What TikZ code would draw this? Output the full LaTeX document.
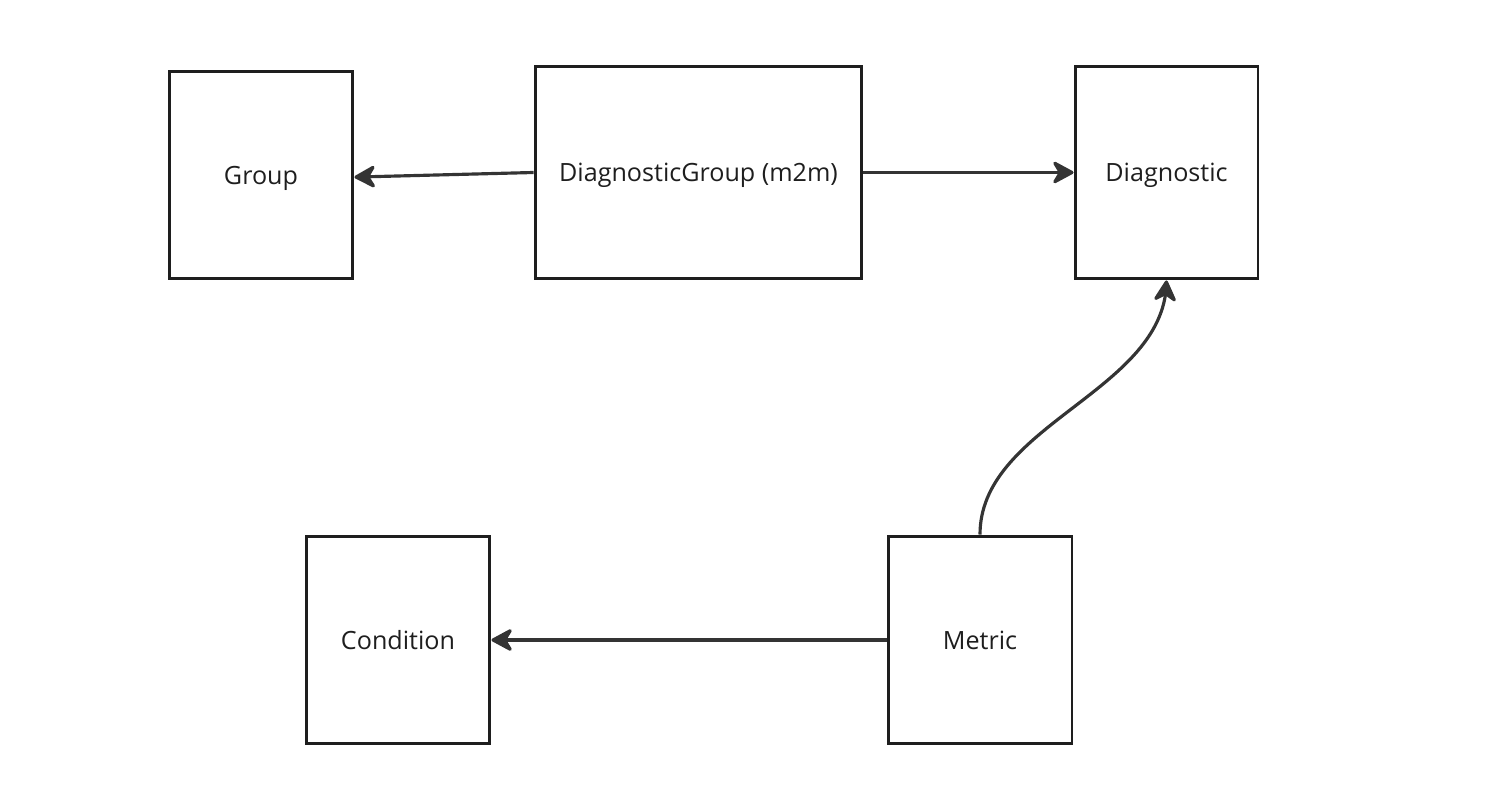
\documentclass[tikz,border=0pt]{standalone}
\usepackage{fontspec}
\setmainfont{Open Sans}
\usepackage{tikz}
\usetikzlibrary{arrows.meta, bending}

\definecolor{inkbox}{HTML}{1E1E1E}
\definecolor{inkarrow}{HTML}{343434}

\tikzset{
    entity/.style={draw=inkbox, line width=1.7pt, text=inkbox, inner sep=0pt,
        font=\fontsize{14.3}{17}\selectfont, text depth=0pt,
        minimum width=3.68cm, minimum height=4.16cm},
    link/.style={draw=inkarrow, line width=1.8pt,
        -{Stealth[length=14pt, width=15pt, inset=4.5pt, round]}}
}

\begin{document}
\begin{tikzpicture}[x=0.02cm, y=-0.02cm]
    \useasboundingbox (0,0) rectangle (1494,810);
    % Draw the boxes
    \node[entity] (group) at (261,175) {Group};
    \node[entity, minimum width=6.54cm, minimum height=4.26cm] (diaggroup) at (698.5,172.5) {DiagnosticGroup (m2m)};
    \node[entity, minimum width=3.66cm, minimum height=4.26cm] (diag) at (1166.5,172.5) {Diagnostic};
    \node[entity] (cond) at (398,640) {Condition};
    \node[entity] (metric) at (980,640) {Metric};
    % Draw the links
    \draw[link] (diaggroup.west) -- ([yshift=-1.2pt]group.east);
    \draw[link] (diaggroup.east) -- (diag.west);
    \draw[link] (metric.north) to[out=90, in=-90, looseness=0.9] (diag.south);
    \draw[link] (metric.west) -- (cond.east);
\end{tikzpicture}
\end{document}
